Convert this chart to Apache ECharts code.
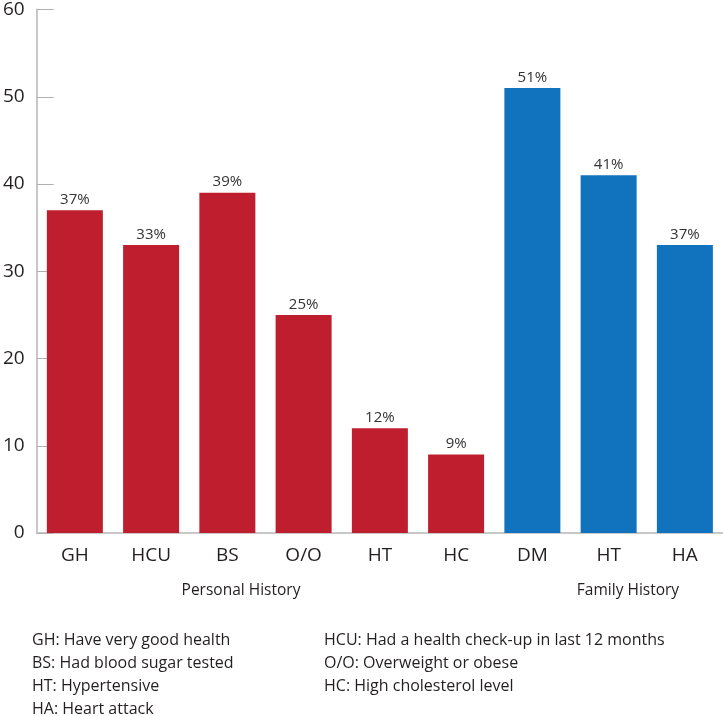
<!DOCTYPE html>
<html>
<head>
<meta charset="utf-8">
<script src="https://cdn.jsdelivr.net/npm/echarts@6/dist/echarts.min.js"></script>
<style>
html,body{margin:0;padding:0;background:#fff;}
#chart{width:723px;height:716px;}
</style>
</head>
<body>
<div id="chart"></div>
<script>
var categories = ['GH', 'HCU', 'BS', 'O/O', 'HT', 'HC', 'DM', 'HT', 'HA'];
var values = [37, 33, 39, 25, 12, 9, 51, 41, 33];
var valueLabels = ['37%', '33%', '39%', '25%', '12%', '9%', '51%', '41%', '37%'];
var groups = ['personal', 'personal', 'personal', 'personal', 'personal', 'personal', 'family', 'family', 'family'];
var groupTitles = ['Personal History', 'Family History'];
var yTicks = [0, 10, 20, 30, 40, 50, 60];
var legendLeft = ['GH: Have very good health', 'BS: Had blood sugar tested', 'HT: Hypertensive', 'HA: Heart attack'];
var legendRight = ['HCU: Had a health check-up in last 12 months', 'O/O: Overweight or obese', 'HC: High cholesterol level'];

var RED = '#BE1E2D';
var BLUE = '#1172BD';
var FONT = '"Open Sans", "DejaVu Sans", sans-serif';
var TXT = '#231F20';

var data = values.map(function (v, i) {
  return {
    value: v,
    itemStyle: { color: groups[i] === 'personal' ? RED : BLUE },
    label: { formatter: valueLabels[i] }
  };
});

var graphics = [];
graphics.push({ type: 'text', x: 241, y: 591, style: { text: groupTitles[0], font: '15.5px ' + FONT, fill: TXT, align: 'center', verticalAlign: 'middle' } });
graphics.push({ type: 'text', x: 628, y: 591, style: { text: groupTitles[1], font: '15.5px ' + FONT, fill: TXT, align: 'center', verticalAlign: 'middle' } });
legendLeft.forEach(function (t, i) {
  graphics.push({ type: 'text', x: 32, y: 640 + i * 23, style: { text: t, font: '16px ' + FONT, fill: TXT, verticalAlign: 'middle' } });
});
legendRight.forEach(function (t, i) {
  graphics.push({ type: 'text', x: 324, y: 640 + i * 23, style: { text: t, font: '16px ' + FONT, fill: TXT, verticalAlign: 'middle' } });
});

var chart = echarts.init(document.getElementById('chart'));
chart.setOption({
  animation: false,
  backgroundColor: '#fff',
  grid: { left: 34, right: 0, top: 3, bottom: 183, containLabel: false },
  xAxis: {
    type: 'category',
    data: categories,
    axisLine: { lineStyle: { color: '#C8C8C8', width: 2 } },
    axisTick: { inside: true, length: 12, lineStyle: { color: '#B0B0B0', width: 1 } },
    axisLabel: { color: TXT, fontSize: 19, fontFamily: FONT, margin: 13 }
  },
  yAxis: {
    type: 'value',
    min: yTicks[0],
    max: yTicks[yTicks.length - 1],
    interval: 10,
    splitLine: { show: false },
    axisLine: { show: true, lineStyle: { color: '#C8C8C8', width: 2 } },
    axisTick: { show: true, inside: true, length: 17, lineStyle: { color: '#B0B0B0', width: 1 } },
    axisLabel: { color: TXT, fontSize: 19, fontFamily: FONT, margin: 12, padding: [10, 0, 0, 0] }
  },
  series: [{
    type: 'bar',
    data: data,
    barWidth: 56,
    label: { show: true, position: 'top', distance: 3, color: '#333', fontSize: 15, fontFamily: FONT }
  }],
  graphic: graphics
});
</script>
</body>
</html>
